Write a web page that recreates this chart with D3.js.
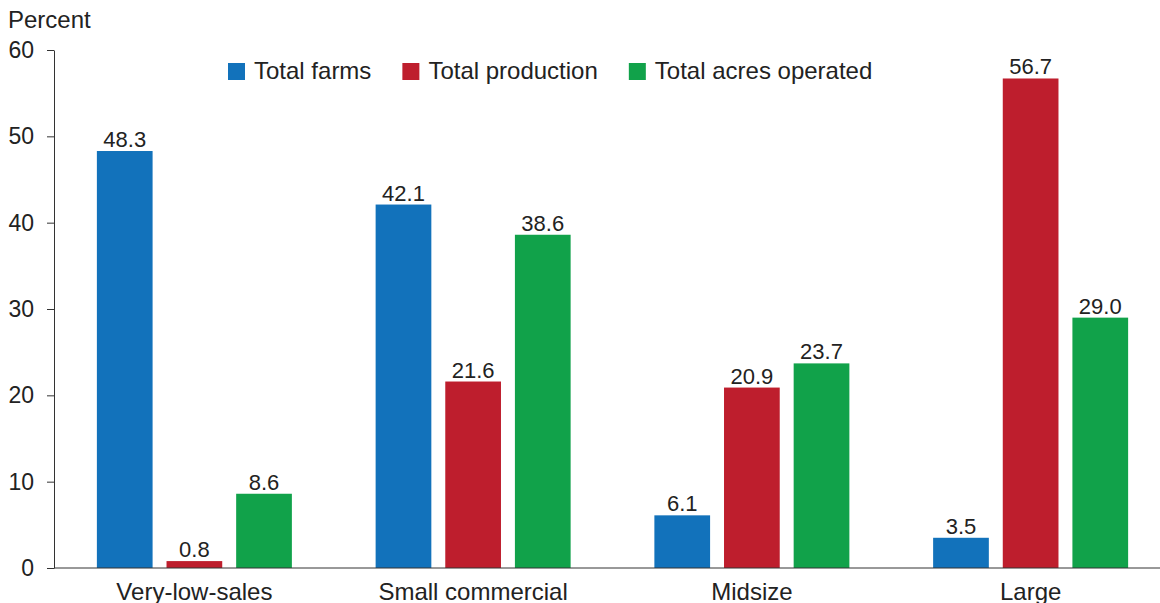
<!DOCTYPE html>
<html>
<head>
<meta charset="utf-8">
<script src="https://cdn.jsdelivr.net/npm/d3@7"></script>
<style>
  body { margin: 0; background: #fff; }
  svg { display: block; font-family: "Liberation Sans", Arial, sans-serif; }
</style>
</head>
<body>
<div id="chart"></div>
<script>
const categories = ["Very-low-sales", "Small commercial", "Midsize", "Large"];
const seriesNames = ["Total farms", "Total production", "Total acres operated"];
const totalFarms = [48.3, 42.1, 6.1, 3.5];
const totalProduction = [0.8, 21.6, 20.9, 56.7];
const totalAcres = [8.6, 38.6, 23.7, 29.0];
const yTicks = [0, 10, 20, 30, 40, 50, 60];
const colors = ["#1272bb", "#be1e2d", "#11a24a"];

const W = 1160, H = 603;
const textColor = "#222";

const seriesValues = [totalFarms, totalProduction, totalAcres];
let dataset = [];
categories.forEach((cat, i) => {
    seriesNames.forEach((s, j) => {
        dataset.push({ category: cat, series: s, value: seriesValues[j][i] });
    });
});

const svg = d3.select("#chart").append("svg")
    .attr("width", W)
    .attr("height", H);

const y = d3.scaleLinear()
    .domain([0, 60])
    .range([568, 50]);

const x0 = d3.scaleBand()
    .domain(categories)
    .range([55, 1170])
    .padding(0);

const x1 = d3.scaleBand()
    .domain(seriesNames)
    .range([0, 195])
    .paddingInner(0.2);

const groupOffset = (x0.bandwidth() - 195) / 2;
const color = d3.scaleOrdinal().domain(seriesNames).range(colors);

// y axis
const yAxis = svg.append("g")
    .attr("transform", "translate(54,0)")
    .call(d3.axisLeft(y).tickValues(yTicks).tickSize(7).tickPadding(13).tickSizeOuter(0));
yAxis.select(".domain").attr("stroke", "#333");
yAxis.selectAll(".tick line").attr("stroke", "#333");
yAxis.selectAll("text")
    .style("font-size", "23px")
    .style("fill", textColor);

svg.append("text")
    .attr("x", 8)
    .attr("y", 28)
    .style("font-size", "24px")
    .style("fill", textColor)
    .text("Percent");

// bars
svg.selectAll(".bar")
    .data(dataset)
    .enter()
    .append("rect")
    .attr("class", "bar")
    .attr("x", d => x0(d.category) + groupOffset + x1(d.series))
    .attr("y", d => y(d.value))
    .attr("width", x1.bandwidth())
    .attr("height", d => y(0) - y(d.value))
    .attr("fill", d => color(d.series));

// value labels
svg.selectAll(".label")
    .data(dataset)
    .enter()
    .append("text")
    .attr("class", "label")
    .attr("x", d => x0(d.category) + groupOffset + x1(d.series) + x1.bandwidth() / 2)
    .attr("y", d => y(d.value) - 4)
    .attr("text-anchor", "middle")
    .style("font-size", "22px")
    .style("fill", textColor)
    .text(d => d.value.toFixed(1));

// x axis
const xAxis = svg.append("g")
    .attr("transform", "translate(0,568)")
    .call(d3.axisBottom(x0).tickSize(0).tickPadding(15).tickSizeOuter(0));
xAxis.select(".domain").attr("d", `M54,0H${W}`).attr("stroke", "#333");
xAxis.selectAll("text")
    .style("font-size", "24px")
    .style("fill", textColor);

// legend
const legend = svg.append("g").attr("class", "legend");
let lx = 228;
seriesNames.forEach((s, i) => {
    const item = legend.append("g").attr("transform", `translate(${lx},63)`);
    item.append("rect")
        .attr("width", 17)
        .attr("height", 17)
        .attr("fill", colors[i]);
    const t = item.append("text")
        .attr("x", 26)
        .attr("y", 16)
        .style("font-size", "24px")
        .style("fill", textColor)
        .text(s);
    lx += 26 + t.node().getComputedTextLength() + 31;
});
</script>
</body>
</html>
